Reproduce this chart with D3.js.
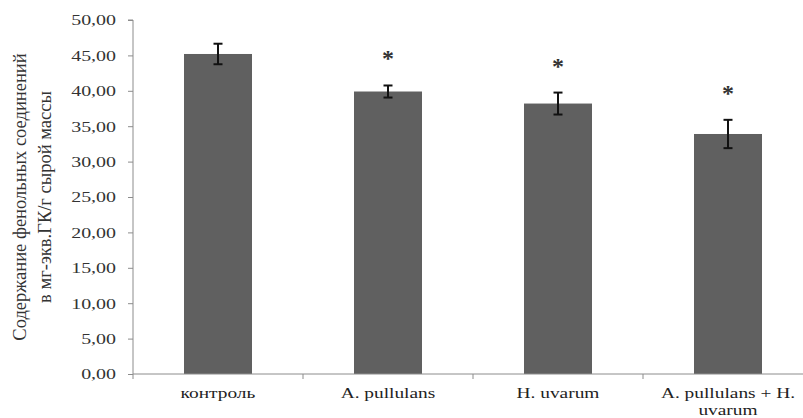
<!DOCTYPE html>
<html><head><meta charset="utf-8">
<script src="https://cdn.jsdelivr.net/npm/d3@7"></script>
<style>body{margin:0;background:#fff}svg{display:block}</style>
</head><body><svg id="c" width="803" height="418"></svg>
<script>
const categories = [["контроль"], ["A. pullulans"], ["H. uvarum"], ["A. pullulans + H.", "uvarum"]];
const values = [45.2, 39.9, 38.2, 33.9];
const errors = [1.45, 0.85, 1.55, 2.0];
const significant = [false, true, true, true];
const yTicks = [0, 5, 10, 15, 20, 25, 30, 35, 40, 45, 50];
const yTitle = ["Содержание фенольных соединений", "в мг-экв.ГК/г сырой массы"];

const svg = d3.select("#c");
const L = 133, R = 813;
const x = d3.scaleBand().domain(d3.range(categories.length)).range([L, R]).paddingInner(0.6).paddingOuter(0.3);
const xb = d3.scaleBand().domain(d3.range(categories.length)).range([L, R]);
const y = d3.scaleLinear().domain([0, 50]).range([374, 20]);
const font = "'Liberation Serif','Times New Roman',serif";

// bars
svg.selectAll("rect.bar").data(values).join("rect").attr("class", "bar")
  .attr("x", (d, i) => x(i)).attr("y", d => y(d))
  .attr("width", x.bandwidth()).attr("height", d => y(0) - y(d))
  .attr("fill", "#606060");

// error bars and significance marks
const eg = svg.append("g").attr("stroke", "#111").attr("stroke-width", 2);
values.forEach((v, i) => {
  const cx = x(i) + x.bandwidth() / 2;
  const top = y(v + errors[i]), bot = y(v - errors[i]);
  eg.append("line").attr("x1", cx).attr("x2", cx).attr("y1", top).attr("y2", bot);
  eg.append("line").attr("x1", cx - 4.5).attr("x2", cx + 4.5).attr("y1", top).attr("y2", top);
  eg.append("line").attr("x1", cx - 4.5).attr("x2", cx + 4.5).attr("y1", bot).attr("y2", bot);
  if (significant[i]) {
    svg.append("text").attr("x", cx).attr("y", top - 19)
      .attr("text-anchor", "middle").attr("font-family", font).attr("font-size", 24)
      .attr("font-weight", "bold").attr("fill", "#333").text("*");
  }
});

// y axis
const yAxis = svg.append("g").attr("transform", `translate(${L},0)`)
  .call(d3.axisLeft(y).tickValues(yTicks).tickSize(5).tickPadding(0)
    .tickFormat(d => d3.format(".2f")(d).replace(".", ",")));
yAxis.select(".domain").attr("stroke", "#8c8c8c").attr("d", `M-5,${y(50)}H0V${y(0)}`);
yAxis.selectAll(".tick line").attr("stroke", "#8c8c8c");
yAxis.selectAll(".tick text").attr("font-family", font).attr("font-size", 15).attr("fill", "#333")
  .attr("x", -17 / 1.33).attr("transform", "scale(1.33,1)");

// x axis
const xg = svg.append("g").attr("transform", `translate(0,${y(0)})`);
xg.append("line").attr("x1", L).attr("x2", R).attr("y1", 0).attr("y2", 0).attr("stroke", "#8c8c8c");
d3.range(categories.length + 1).forEach(i => {
  const tx = L + i * xb.step();
  xg.append("line").attr("x1", tx).attr("x2", tx).attr("y1", 0).attr("y2", 5).attr("stroke", "#8c8c8c");
});
const sx = 1.25;
categories.forEach((c, i) => {
  const cx = x(i) + x.bandwidth() / 2;
  const t = xg.append("text").attr("text-anchor", "middle").attr("font-family", font)
    .attr("font-size", 15.5).attr("fill", "#222")
    .attr("transform", `scale(${sx},1)`);
  c.forEach((line, j) => {
    t.append("tspan").attr("x", cx / sx).attr("y", 24 + j * 17).text(line);
  });
});

// y title
const tt = svg.append("text").attr("transform", "translate(0,197) rotate(-90)")
  .attr("text-anchor", "middle").attr("font-family", font).attr("font-size", 18.5).attr("fill", "#333");
yTitle.forEach((line, j) => tt.append("tspan").attr("x", 0).attr("y", 26 + j * 25).text(line));
</script></body></html>
